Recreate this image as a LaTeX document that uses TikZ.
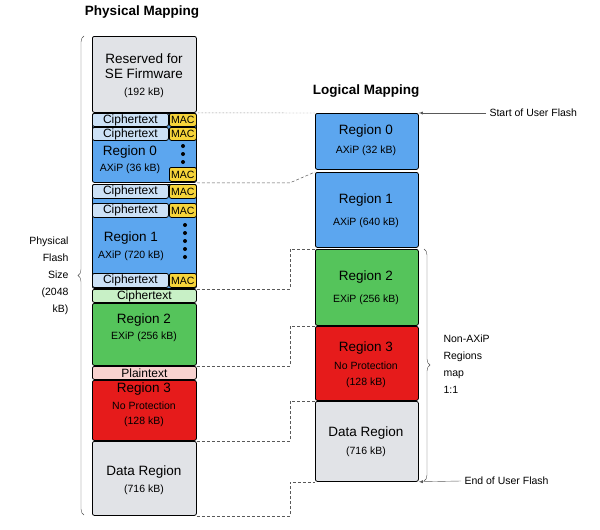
\documentclass[tikz,border=0pt]{standalone}
\usepackage{fontspec}
\setmainfont{Liberation Sans}
\usetikzlibrary{decorations.pathreplacing}
\definecolor{seGray}{HTML}{E1E3E7}
\definecolor{axBlue}{HTML}{5CA6EF}
\definecolor{ctBlue}{HTML}{CCE1F6}
\definecolor{exGreen}{HTML}{55C45B}
\definecolor{ctGreen}{HTML}{C8F0C6}
\definecolor{npRed}{HTML}{E61B1B}
\definecolor{ptPink}{HTML}{F8D2D0}
\definecolor{macYel}{HTML}{F6D43A}
\tikzset{
  blk/.style={draw=black, line width=0.8pt, rounded corners=2pt, inner sep=0pt},
  ct/.style={blk, minimum width=76pt, font=\fontsize{12}{12}\selectfont},
  mac/.style={blk, fill=macYel, minimum width=27pt, font=\fontsize{10.5}{10.5}\selectfont},
  lbl/.style={font=\fontsize{13.5}{15}\selectfont},
  sub/.style={font=\fontsize{10.5}{12}\selectfont},
  link/.style={densely dashed, gray!70!black, line width=0.5pt}
}
\begin{document}
\begin{tikzpicture}[x=1pt, y=-1pt]
\useasboundingbox (0,0) rectangle (600,530);
% titles
\node[font=\bfseries\fontsize{13.5}{13.5}\selectfont] (tphys) at (142,12) {Physical Mapping};
\node[font=\bfseries\fontsize{13.5}{13.5}\selectfont] (tlog) at (366,91) {Logical Mapping};
% physical column
\node[blk, fill=seGray, minimum width=104pt, minimum height=76pt, anchor=north west] (resP) at (92,36) {};
\node[lbl, align=center] at (144,66) {Reserved for\\SE Firmware};
\node[sub] at (144,93) {(192 kB)};
\node[blk, fill=axBlue, minimum width=104pt, minimum height=69pt, anchor=north west] (r0P) at (92,113) {};
\node[ct, fill=ctBlue, minimum height=13pt, anchor=north west] (c01) at (92,113) {Ciphertext};
\node[mac, minimum height=13pt, anchor=north west] (m01) at (169,113) {MAC};
\node[ct, fill=ctBlue, minimum height=13pt, anchor=north west] (c02) at (92,127) {Ciphertext};
\node[mac, minimum height=13pt, anchor=north west] (m02) at (169,127) {MAC};
\node[mac, minimum height=14pt, anchor=north west] (m03) at (169,167) {MAC};
\node[lbl] at (130,152) {Region 0};
\node[sub] at (130,169) {AXiP (36 kB)};
\foreach \y in {146,154,162} \fill (183,\y) circle (2pt);
\node[blk, fill=axBlue, minimum width=104pt, minimum height=104pt, anchor=north west] (r1P) at (92,184) {};
\node[ct, fill=ctBlue, minimum height=14pt, anchor=north west] (c11) at (92,184) {Ciphertext};
\node[mac, minimum height=14pt, anchor=north west] (m11) at (169,184) {MAC};
\node[ct, fill=ctBlue, minimum height=14pt, anchor=north west] (c12) at (92,203) {Ciphertext};
\node[mac, minimum height=14pt, anchor=north west] (m12) at (169,203) {MAC};
\node[ct, fill=ctBlue, minimum height=14pt, anchor=north west] (c13) at (92,273) {Ciphertext};
\node[mac, minimum height=14pt, anchor=north west] (m13) at (169,273) {MAC};
\node[lbl] at (131,238) {Region 1};
\node[sub] at (131,256) {AXiP (720 kB)};
\foreach \y in {225,233,241,249,257} \fill (185,\y) circle (2pt);
\node[blk, fill=ctGreen, minimum width=104pt, minimum height=13pt, anchor=north west, font=\fontsize{12}{12}\selectfont] (c2P) at (92,289) {Ciphertext};
\node[blk, fill=exGreen, minimum width=104pt, minimum height=62pt, anchor=north west] (r2P) at (92,303) {};
\node[lbl] at (144,320) {Region 2};
\node[sub] at (144,337) {EXiP (256 kB)};
\node[blk, fill=ptPink, minimum width=104pt, minimum height=13pt, anchor=north west, font=\fontsize{12}{12}\selectfont] (p3P) at (92,366) {Plaintext};
\node[blk, fill=npRed, minimum width=104pt, minimum height=60pt, anchor=north west] (r3P) at (92,380) {};
\node[lbl] at (144,389) {Region 3};
\node[sub] at (144,406) {No Protection};
\node[sub] at (144,422) {(128 kB)};
\node[blk, fill=seGray, minimum width=104pt, minimum height=74pt, anchor=north west] (dP) at (92,441) {};
\node[lbl] at (144,472) {Data Region};
\node[sub] at (144,490) {(716 kB)};
% logical column
\node[blk, fill=axBlue, minimum width=103pt, minimum height=56pt, anchor=north west] (r0L) at (315,113) {};
\node[lbl] at (366,131) {Region 0};
\node[sub] at (366,151) {AXiP (32 kB)};
\node[blk, fill=axBlue, minimum width=103pt, minimum height=75pt, anchor=north west] (r1L) at (315,172) {};
\node[lbl] at (366,200) {Region 1};
\node[sub] at (366,223) {AXiP (640 kB)};
\node[blk, fill=exGreen, minimum width=103pt, minimum height=76pt, anchor=north west] (r2L) at (315,249) {};
\node[lbl] at (366,277) {Region 2};
\node[sub] at (366,300) {EXiP (256 kB)};
\node[blk, fill=npRed, minimum width=103pt, minimum height=74pt, anchor=north west] (r3L) at (315,326) {};
\node[lbl] at (366,348) {Region 3};
\node[sub] at (366,366) {No Protection};
\node[sub] at (366,383) {(128 kB)};
\node[blk, fill=seGray, minimum width=103pt, minimum height=80pt, anchor=north west] (dL) at (315,401) {};
\node[lbl] at (366,433) {Data Region};
\node[sub] at (366,452) {(716 kB)};
% links
\coordinate (kink) at (290,0);
\draw[densely dotted, gray!70!black] (resP.south east) -- (r0L.north west);
\draw[link] (r0P.south east) -- (kink |- r0P.south east) -- (r1L.north west);
\draw[link] (r1P.south east) -- (kink |- r1P.south east) -- (kink |- r2L.north west) -- (r2L.north west);
\draw[link] (r2P.south east) -- (kink |- r2P.south east) -- (kink |- r3L.north west) -- (r3L.north west);
\draw[link] (r3P.south east) -- (kink |- r3P.south east) -- (kink |- dL.north west) -- (dL.north west);
\draw[link] (dP.south east) -- (kink |- dP.south east) -- (kink |- dL.south west) -- (dL.south west);
% braces
\draw[gray!60!black, decorate, decoration={brace, amplitude=6pt}] (84,515) -- (84,36);
\node[sub, align=right, anchor=east, font=\fontsize{10.5}{17}\selectfont] (fsz) at (72,276) {Physical\\Flash\\Size\\(2048\\kB)};
\draw[gray!60!black, decorate, decoration={brace, amplitude=6pt}] (424,249) -- (424,481);
\node[sub, align=left, anchor=west, font=\fontsize{10.5}{17}\selectfont] (nax) at (440,364) {Non-AXiP\\Regions\\map\\1:1};
% flash markers
\node[sub, anchor=west] (start) at (486,113) {Start of User Flash};
\node[sub, anchor=west] (endf) at (461,481) {End of User Flash};
\draw[-latex, gray!70!black] (start.west) -- (r0L.north east);
\draw[-latex, gray!70!black] (endf.west) -- (dL.south east);
\end{tikzpicture}
\end{document}
